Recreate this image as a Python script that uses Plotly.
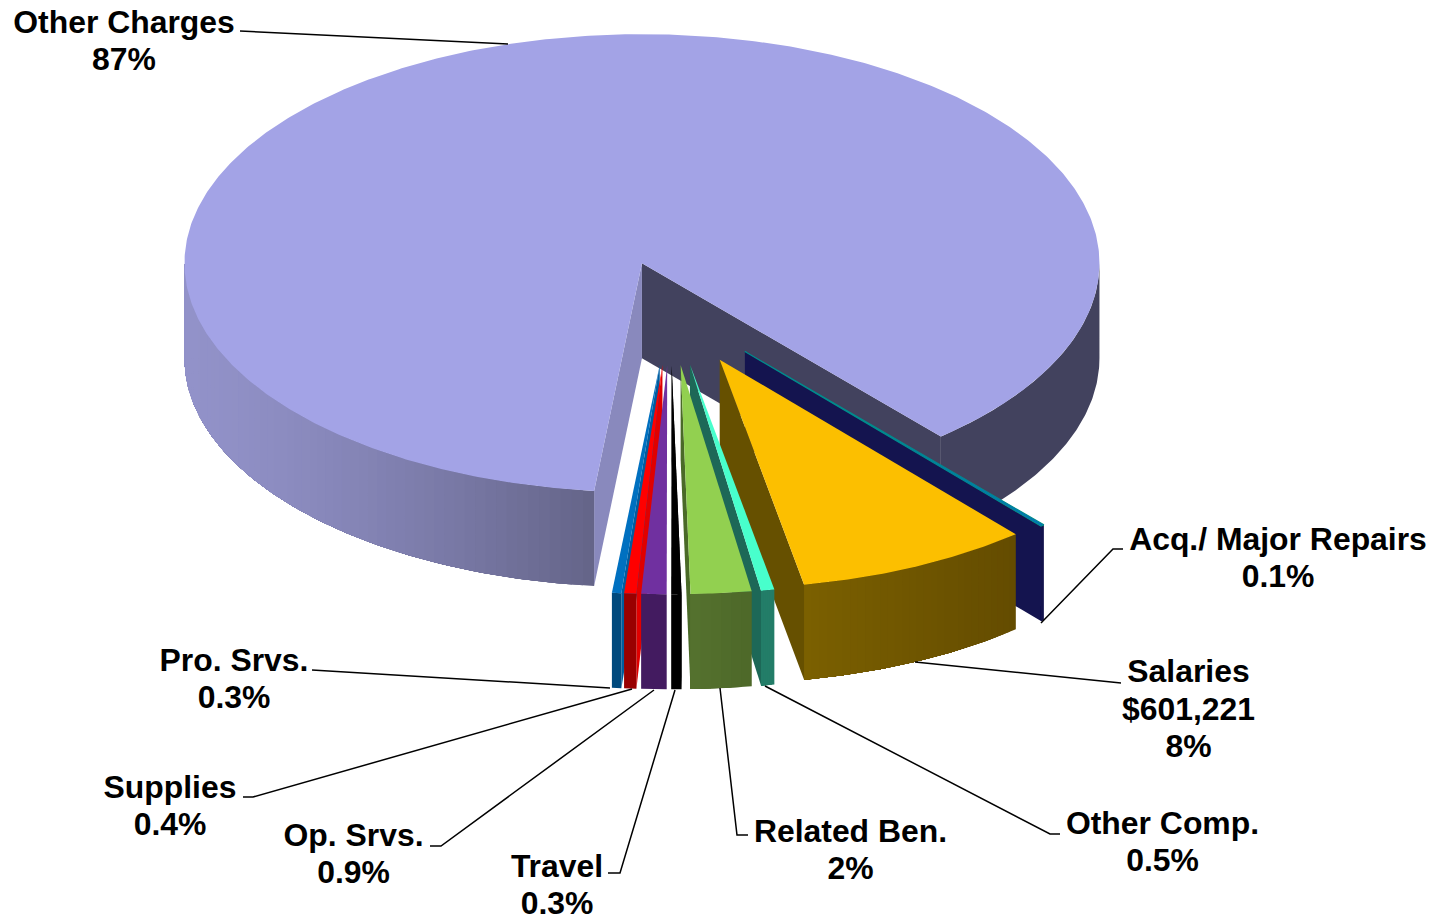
import numpy as np
import plotly.graph_objects as go

# ---- data (share of total, %) ----
categories = ["Other Charges", "Acq./ Major Repairs", "Salaries", "Other Comp.", "Related Ben.",
              "Travel", "Op. Srvs.", "Supplies", "Pro. Srvs."]
values = [87.0, 0.13, 8.25, 0.47, 2.14, 0.36, 0.89, 0.43, 0.33]
value_labels = [["87%"], ["0.1%"], ["$601,221", "8%"], ["0.5%"], ["2%"], ["0.3%"], ["0.9%"], ["0.4%"], ["0.3%"]]

# ---- styling / geometry of the tilted pie ----
START = 96.0
CX_MAIN, CX_OUT, CY, RX, RY, DEPTH = 670.0, 670.5, 308, 457.5, 229, 95
EXPLODE = [0.205, 0.25, 0.25, 0.25, 0.25, 0.25, 0.25, 0.25, 0.25]
TOP = ["#A3A3E6", "#0070C0", "#FCBF00", "#48FFCC", "#92D050", "#000000", "#7030A0", "#FF0000", "#0070C0"]
FACE = ["#8989BD", "#14144F", "#665000", "#1D6857", "#4A6A28", "#000000", "#5A2785", "#E00000", "#005C9E"]
RIM_L = ["#9292C9", "#14144F", "#7B6000", "#237D68", "#55722F", "#000000", "#431B60", "#990000", "#00497D"]
RIM_R = ["#646488", "#14144F", "#644C00", "#237D68", "#4D6829", "#000000", "#431B60", "#990000", "#00497D"]
BACK = "#42425E"

LABEL_X = [124, 1278, 1188.5, 1162.5, 850.5, 557, 353.5, 170, 234]
LABEL_Y = [25, 542, 674.5, 826, 834, 869, 838, 790, 663]
LINE_GAP = 37.3
LEADERS = [
    [(240, 31), (508, 44)],
    [(1123, 549), (1113, 549), (1041, 623)],
    [(1121, 683), (915, 662)],
    [(1060, 834), (1050, 834), (765, 686)],
    [(748, 835), (737, 835), (720, 688)],
    [(608, 873), (620, 873), (675, 690)],
    [(430, 846), (441, 846), (654, 690)],
    [(243, 797), (253, 797), (632, 689)],
    [(312, 670), (610, 688)],
]

fig = go.Figure()


def poly(xs, ys, color, line=None, lw=0):
    fig.add_trace(go.Scatter(x=list(xs), y=list(ys), mode="lines", fill="toself", fillcolor=color,
                             line=dict(color=line or color, width=lw), hoverinfo="skip", showlegend=False))


def mix(a, b, t):
    ca = [int(a[i:i + 2], 16) for i in (1, 3, 5)]
    cb = [int(b[i:i + 2], 16) for i in (1, 3, 5)]
    return "#%02X%02X%02X" % tuple(round(p + (q - p) * t) for p, q in zip(ca, cb))


# slice angles from the values
total = sum(values)
edges = START + np.concatenate([[0], np.cumsum(values)]) * 360 / total
slices = []
for i in range(len(values)):
    t1, t2 = edges[i], edges[i + 1]
    mid = np.radians((t1 + t2) / 2)
    ax = (CX_MAIN if i == 0 else CX_OUT) + EXPLODE[i] * RX * np.cos(mid)
    ay = CY + EXPLODE[i] * RY * np.sin(mid)
    slices.append((t1, t2, ax, ay))


def pt(ax, ay, deg):
    return ax + RX * np.cos(np.radians(deg)), ay + RY * np.sin(np.radians(deg))


def rim(i, a, b, c_left, c_right, n=1, gamma=1.0):
    """Rim from angle a to b; bands painted over one another so that no seams show."""
    ax, ay = slices[i][2], slices[i][3]
    x_a, x_b = pt(ax, ay, a)[0], pt(ax, ay, b)[0]
    lo, hi = min(x_a, x_b), max(x_a, x_b)
    ts = np.linspace(a, b, n + 1)
    for k in range(n):
        arc = np.linspace(ts[k], b, max(2, int(abs(b - ts[k]) / 0.5) + 2))
        px, py = pt(ax, ay, arc)
        f = (pt(ax, ay, (ts[k] + ts[k + 1]) / 2)[0] - lo) / max(hi - lo, 1e-6)
        poly([*px, *px[::-1], px[0]], [*py, *(py[::-1] + DEPTH), py[0]], mix(c_left, c_right, f ** gamma))


def cut(ax, ay, deg, color):
    px, py = pt(ax, ay, deg)
    poly([ax, px, px, ax, ax], [ay, py, py + DEPTH, ay + DEPTH, ay], color)


def top(ax, ay, a, b, color, line=None, lw=0):
    ts = np.linspace(a, b, max(3, int(abs(b - a) / 0.5)))
    px, py = pt(ax, ay, ts)
    poly([ax, *px, ax], [ay, *py, ay], color, line, lw)


# main slice
t1, t2, ax, ay = slices[0]
t2n = t2 - 360
rim(0, 0, t2n, BACK, BACK)
cut(ax, ay, t2n, BACK)
cut(ax, ay, t1, FACE[0])
rim(0, t1, 180, RIM_L[0], RIM_R[0], 60, 1.4)
top(ax, ay, t1, t2, TOP[0])

# exploded slices, back to front
for i in [1, 2, 3, 4]:          # pointing right of centre: the far cut face shows
    t1, t2, ax, ay = slices[i]
    cut(ax, ay, t2, FACE[i])
    rim(i, t1, t2, RIM_L[i], RIM_R[i], 30 if i == 2 else 6)
    if i == 1:
        top(ax, ay, t1, t2, TOP[i], "#008B8B", 1.2)
    else:
        top(ax, ay, t1, t2, TOP[i])
for i in [8, 7, 6, 5]:          # pointing left of centre: the near cut face shows
    t1, t2, ax, ay = slices[i]
    cut(ax, ay, t1, FACE[i])
    rim(i, t1, t2, RIM_L[i], RIM_R[i], 1)
    top(ax, ay, t1, t2, TOP[i])

# leaders
for seg in LEADERS:
    fig.add_trace(go.Scatter(x=[p[0] for p in seg], y=[p[1] for p in seg], mode="lines",
                             line=dict(color="#000000", width=1.5), hoverinfo="skip", showlegend=False))

# labels
for name, extra, lx, ly in zip(categories, value_labels, LABEL_X, LABEL_Y):
    lines = [name] + extra
    fig.add_trace(go.Scatter(x=[lx] * len(lines), y=[ly + k * LINE_GAP for k in range(len(lines))],
                             mode="text", text=lines, textposition="middle center", cliponaxis=False,
                             textfont=dict(family="Liberation Sans", size=31.9, color="#000000", weight="bold"),
                             hoverinfo="skip", showlegend=False))

fig.update_layout(width=1445, height=920, margin=dict(l=0, r=0, t=0, b=0), showlegend=False,
                  paper_bgcolor="#FFFFFF", plot_bgcolor="#FFFFFF",
                  xaxis=dict(range=[0, 1445], visible=False, fixedrange=True),
                  yaxis=dict(range=[920, 0], visible=False, fixedrange=True))

fig.write_html("out.html", post_script="document.body.style.margin='0';", config={"displayModeBar": False})
